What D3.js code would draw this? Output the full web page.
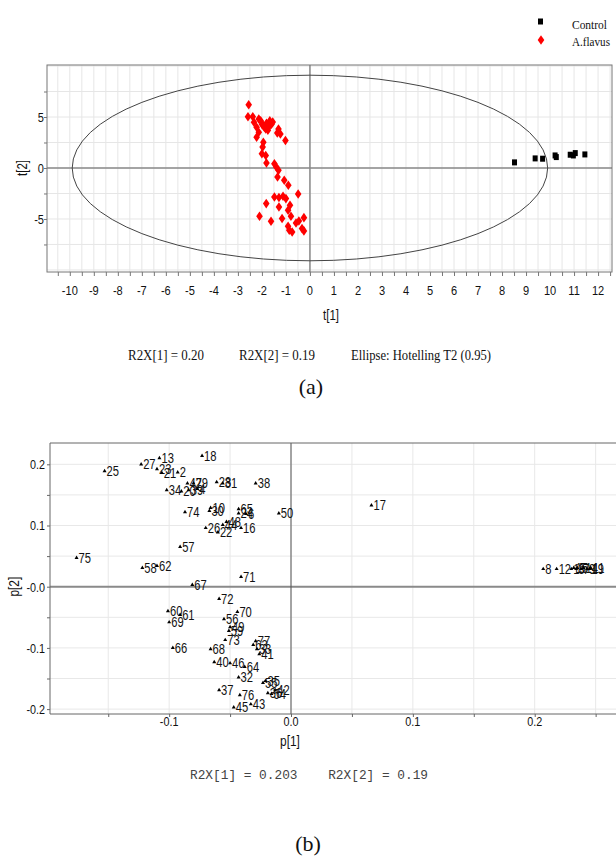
<!DOCTYPE html>
<html>
<head>
<meta charset="utf-8">
<script src="https://cdn.jsdelivr.net/npm/d3@7"></script>
<style>
  body { margin: 0; background: #fff; }
  svg text { fill: #111; }
</style>
</head>
<body>
<script>
// ---- (a) score plot: t[1] / t[2] ----
var ctrlT1 = [8.52, 9.38, 9.69, 10.21, 10.26, 10.84, 10.97, 11.05, 11.45];
var ctrlT2 = [0.55, 0.94, 0.91, 1.23, 1.07, 1.30, 1.23, 1.46, 1.33];

var flavT1 = [-2.55, -2.58, -2.38, -2.33, -2.13, -2.05, -1.94, -1.81, -1.67, -1.84, -1.72, -2.22, -2.13, -2.22,
              -1.31, -1.36, -1.23, -1.02, -1.94, -1.97, -2.0, -1.84, -1.81, -1.48, -1.40, -1.31, -1.35, -1.07,
              -0.9, -1.9, -1.6, -2.0, -1.75, -1.55,
              -0.49, -1.48, -1.29, -1.12, -1.0, -1.82, -1.29, -0.83, -0.91, -2.1, -0.79, -0.25, -1.62, -1.16,
              -0.58, -0.46, -0.91, -0.74, -0.33, -0.25, -0.86];
var flavT2 = [6.2, 5.03, 5.03, 4.48, 4.8, 4.64, 4.16, 4.38, 4.64, 3.83, 3.99, 3.99, 3.51, 3.02,
              3.83, 3.44, 3.34, 2.69, 2.53, 2.05, 1.4, 1.23, 0.49, 0.42, 0.1, -0.23, -0.88, -1.2,
              -1.69, 4.0, 4.3, 4.3, 3.7, 4.5,
              -2.55, -2.84, -2.9, -2.77, -3.0, -3.49, -3.82, -3.66, -4.15, -4.74, -4.74, -4.87, -5.23, -4.96,
              -5.39, -5.2, -5.72, -6.27, -5.94, -6.17, -6.1];

var seriesNames = ["Control", "A.flavus"];
var t1Labels = [-10, -9, -8, -7, -6, -5, -4, -3, -2, -1, 0, 1, 2, 3, 4, 5, 6, 7, 8, 9, 10, 11, 12];
var t2Labels = [-5, 0, 5];
var ellipseR = [9.9, 9.1];   // Hotelling T2 (0.95) radii in t[1], t[2] units
var noteA = ["R2X[1] = 0.20", "R2X[2] = 0.19", "Ellipse: Hotelling T2 (0.95)"];

// ---- (b) loading plot: p[1] / p[2] ----
var loadNames = ["25", "27", "13", "23", "21", "2", "18", "34", "47", "29", "20", "39", "4", "28", "31", "38",
  "74", "10", "30", "65", "24", "6", "50", "26", "44", "48", "22", "16", "57", "17", "75", "58", "62", "67",
  "71", "72", "60", "69", "61", "56", "70", "49", "59", "73", "68", "66", "77", "63", "33", "41", "40", "46",
  "64", "32", "37", "76", "55", "35", "36", "42", "54", "45", "43", "8", "12", "1", "15", "3", "5", "7",
  "14", "9", "19", "11"];
var loadP1 = [-0.153, -0.123, -0.108, -0.110, -0.106, -0.093, -0.073, -0.102, -0.085, -0.080, -0.090, -0.084,
  -0.077, -0.061, -0.056, -0.029, -0.087, -0.066, -0.067, -0.043, -0.043, -0.037, -0.010, -0.070, -0.056,
  -0.053, -0.060, -0.041, -0.091, 0.066, -0.176, -0.122, -0.110, -0.081, -0.041, -0.059, -0.101, -0.100,
  -0.091, -0.055, -0.044, -0.050, -0.051, -0.054, -0.066, -0.097, -0.029, -0.031, -0.028, -0.026, -0.063,
  -0.050, -0.038, -0.043, -0.059, -0.042, -0.023, -0.021, -0.019, -0.013, -0.016, -0.047, -0.033, 0.207,
  0.218, 0.230, 0.232, 0.234, 0.235, 0.238, 0.240, 0.243, 0.245, 0.246];
var loadP2 = [0.189, 0.200, 0.210, 0.192, 0.186, 0.187, 0.214, 0.158, 0.169, 0.169, 0.156, 0.158, 0.160,
  0.171, 0.169, 0.169, 0.122, 0.129, 0.124, 0.127, 0.120, 0.119, 0.120, 0.096, 0.101, 0.106, 0.089, 0.096,
  0.065, 0.133, 0.047, 0.031, 0.034, 0.003, 0.016, -0.020, -0.040, -0.058, -0.046, -0.053, -0.041, -0.066,
  -0.072, -0.087, -0.102, -0.100, -0.089, -0.095, -0.102, -0.110, -0.123, -0.125, -0.131, -0.148, -0.169,
  -0.177, -0.157, -0.154, -0.174, -0.169, -0.175, -0.197, -0.192, 0.029, 0.029, 0.029, 0.031, 0.029, 0.031,
  0.029, 0.031, 0.029, 0.029, 0.031];

var p1Ticks = [-0.1, 0.0, 0.1, 0.2];
var p1TickLabels = ["-0.1", "0.0", "0.1", "0.2"];
var p2Ticks = [-0.2, -0.1, 0.0, 0.1, 0.2];
var p2TickLabels = ["-0.2", "-0.1", "-0.0", "0.1", "0.2"];
var noteB = "R2X[1] = 0.203    R2X[2] = 0.19";

var width = 616, height = 856;
var sans = "'Liberation Sans', Arial, sans-serif",
    serif = "'Liberation Serif', 'Times New Roman', serif",
    mono = "'Liberation Mono', 'DejaVu Sans Mono', monospace";

var svg = d3.select("body").append("svg")
    .attr("width", width)
    .attr("height", height);

// text with a horizontal squeeze, the figure's fonts look condensed
function label(g, x, y, s, o) {
  o = o || {};
  return g.append("text")
    .attr("transform", "translate(" + x + "," + y + ")" + (o.rot ? " rotate(" + o.rot + ")" : "") +
          " scale(" + (o.k || 1) + ",1)")
    .attr("text-anchor", o.anchor || "start")
    .style("font-family", o.font || sans)
    .style("font-size", (o.size || 13) + "px")
    .style("fill", o.fill || "#111")
    .text(s);
}

function halfSteps(a, b, s) { // grid positions
  var n = Math.round((b - a) / s), out = [];
  for (var i = 0; i <= n; i++) out.push(+(a + i * s).toFixed(4));
  return out;
}

// ================= (a) =================
var A = {left: 47, right: 612, top: 65, bottom: 272};
var xA = d3.scaleLinear().domain([-10.95, 12.58]).range([A.left, A.right]);
var yA = d3.scaleLinear().domain([-10.2, 10.1]).range([A.bottom, A.top]);

var ga = svg.append("g");

ga.append("g").selectAll("line").data(halfSteps(-10.5, 12.5, 0.5)).enter().append("line")
    .attr("x1", d => xA(d)).attr("x2", d => xA(d))
    .attr("y1", A.top).attr("y2", A.bottom)
    .attr("stroke", "#e6e6e6");
ga.append("g").selectAll("line").data(halfSteps(-10, 10, 2.5)).enter().append("line")
    .attr("y1", d => yA(d)).attr("y2", d => yA(d))
    .attr("x1", A.left).attr("x2", A.right)
    .attr("stroke", "#e6e6e6");

// zero lines
ga.append("line").attr("x1", xA(0)).attr("x2", xA(0)).attr("y1", A.top).attr("y2", A.bottom)
    .attr("stroke", "#8a8a8a").attr("stroke-width", 1.5);
ga.append("line").attr("y1", yA(0)).attr("y2", yA(0)).attr("x1", A.left).attr("x2", A.right)
    .attr("stroke", "#8a8a8a").attr("stroke-width", 1.5);

// frame
ga.append("rect").attr("x", A.left).attr("y", A.top)
    .attr("width", A.right - A.left).attr("height", A.bottom - A.top)
    .attr("fill", "none").attr("stroke", "#777");

// ticks
var axA = ga.append("g").attr("transform", "translate(0," + A.bottom + ")")
    .call(d3.axisBottom(xA).tickValues(halfSteps(-10.5, 12.5, 0.5)).tickSize(4).tickFormat(""));
axA.select(".domain").remove();
axA.selectAll("line").attr("stroke", "#777");
t1Labels.forEach(function(v) {
  label(ga, xA(v), 295, v, {anchor: "middle", size: 13.5, k: 0.82});
});

var ayA = ga.append("g").attr("transform", "translate(" + A.left + ",0)")
    .call(d3.axisLeft(yA).tickValues(halfSteps(-7.5, 7.5, 2.5)).tickSize(3).tickFormat(""));
ayA.select(".domain").remove();
ayA.selectAll("line").attr("stroke", "#777");
t2Labels.forEach(function(v) {
  label(ga, 44, yA(v) + 5, v, {anchor: "end", size: 13.5, k: 0.82});
});

// ellipse
ga.append("ellipse")
    .attr("cx", xA(0)).attr("cy", yA(0))
    .attr("rx", xA(ellipseR[0]) - xA(0)).attr("ry", yA(0) - yA(ellipseR[1]))
    .attr("fill", "none").attr("stroke", "#444").attr("stroke-width", 1);

// points
var sq = d3.range(ctrlT1.length).map(i => [ctrlT1[i], ctrlT2[i]]);
var dm = d3.range(flavT1.length).map(i => [flavT1[i], flavT2[i]]);

function diamond(x, y) {
  return "M" + x + "," + (y - 4.8) + "L" + (x + 3.3) + "," + y + "L" + x + "," + (y + 4.8) +
         "L" + (x - 3.3) + "," + y + "Z";
}

ga.append("g").selectAll("path").data(dm).enter().append("path")
    .attr("d", d => diamond(xA(d[0]), yA(d[1])))
    .attr("fill", "#ff0000");
ga.append("g").selectAll("rect").data(sq).enter().append("rect")
    .attr("x", d => xA(d[0]) - 2.5).attr("y", d => yA(d[1]) - 3)
    .attr("width", 5).attr("height", 6)
    .attr("fill", "#000");

// legend
svg.append("rect").attr("x", 538).attr("y", 18.5).attr("width", 5).attr("height", 6).attr("fill", "#000");
svg.append("path").attr("d", diamond(541, 40)).attr("fill", "#ff0000");
svg.append("text").attr("x", 572).attr("y", 29).attr("textLength", 35).attr("lengthAdjust", "spacingAndGlyphs")
    .style("font-family", serif).style("font-size", "13px").text(seriesNames[0]);
svg.append("text").attr("x", 572).attr("y", 46).attr("textLength", 38).attr("lengthAdjust", "spacingAndGlyphs")
    .style("font-family", serif).style("font-size", "13px").text(seriesNames[1]);

// titles
label(svg, 331, 320, "t[1]", {anchor: "middle", size: 14, k: 0.82});
label(svg, 27, yA(0), "t[2]", {anchor: "middle", size: 14, k: 0.82, rot: -90});

[[128, 76], [239, 76], [351, 140]].forEach(function(p, i) {
  svg.append("text").attr("x", p[0]).attr("y", 360)
      .attr("textLength", p[1]).attr("lengthAdjust", "spacingAndGlyphs")
      .style("font-family", serif).style("font-size", "15px")
      .text(noteA[i]);
});
svg.append("text").attr("x", 311).attr("y", 394).attr("text-anchor", "middle")
    .style("font-family", serif).style("font-size", "22px").text("(a)");

// ================= (b) =================
var B = {left: 50, right: 620, top: 443, bottom: 714};
var xB = d3.scaleLinear().domain([-0.1978, 0.27]).range([B.left, B.right]);
var yB = d3.scaleLinear().domain([-0.208, 0.2348]).range([B.bottom, B.top]);

var gb = svg.append("g");

gb.append("g").selectAll("line").data(halfSteps(-0.15, 0.25, 0.05)).enter().append("line")
    .attr("x1", d => xB(d)).attr("x2", d => xB(d))
    .attr("y1", B.top).attr("y2", B.bottom)
    .attr("stroke", "#e8e8e8");
gb.append("g").selectAll("line").data(halfSteps(-0.2, 0.2, 0.05)).enter().append("line")
    .attr("y1", d => yB(d)).attr("y2", d => yB(d))
    .attr("x1", B.left).attr("x2", B.right)
    .attr("stroke", "#e8e8e8");

gb.append("line").attr("y1", yB(0)).attr("y2", yB(0)).attr("x1", B.left).attr("x2", B.right)
    .attr("stroke", "#8a8a8a").attr("stroke-width", 2);
gb.append("line").attr("x1", xB(0)).attr("x2", xB(0)).attr("y1", B.top).attr("y2", B.bottom)
    .attr("stroke", "#555").attr("stroke-width", 1);

// frame (right side falls off the picture)
gb.append("path")
    .attr("d", "M" + B.right + "," + B.top + "H" + B.left + "V" + B.bottom + "H" + B.right)
    .attr("fill", "none").attr("stroke", "#666");

var axB = gb.append("g").attr("transform", "translate(0," + B.bottom + ")")
    .call(d3.axisBottom(xB).tickValues(halfSteps(-0.15, 0.25, 0.05)).tickSize(3).tickFormat(""));
axB.select(".domain").remove();
axB.selectAll("line").attr("stroke", "#666");
p1Ticks.forEach(function(v, i) {
  label(gb, xB(v), 726, p1TickLabels[i], {anchor: "middle", size: 13.5, k: 0.8});
});

var ayB = gb.append("g").attr("transform", "translate(" + B.left + ",0)")
    .call(d3.axisLeft(yB).tickValues(halfSteps(-0.2, 0.2, 0.05)).tickSize(3).tickFormat(""));
ayB.select(".domain").remove();
ayB.selectAll("line").attr("stroke", "#666");
p2Ticks.forEach(function(v, i) {
  label(gb, 45, yB(v) + 5, p2TickLabels[i], {anchor: "end", size: 13.5, k: 0.8});
});

// loadings
var loads = loadNames.map((n, i) => ({name: n, p1: loadP1[i], p2: loadP2[i]}));
var tri = d3.symbol().type(d3.symbolTriangle).size(7);

var pts = gb.append("g").selectAll("g").data(loads).enter().append("g")
    .attr("transform", d => "translate(" + xB(d.p1) + "," + yB(d.p2) + ")");
pts.append("path").attr("d", tri).attr("fill", "#000");
pts.append("text")
    .attr("transform", "translate(2,5) scale(0.8,1)")
    .style("font-family", sans).style("font-size", "14px")
    .text(d => d.name);

label(svg, 290, 746, "p[1]", {anchor: "middle", size: 14, k: 0.85});
label(svg, 19, yB(0), "p[2]", {anchor: "middle", size: 14, k: 0.85, rot: -90});

svg.append("text").attr("x", 190).attr("y", 779)
    .attr("textLength", 238).attr("lengthAdjust", "spacingAndGlyphs")
    .style("font-family", mono).style("font-size", "13px").style("fill", "#444")
    .attr("xml:space", "preserve").style("white-space", "pre")
    .text(noteB);

svg.append("text").attr("x", 308).attr("y", 851).attr("text-anchor", "middle")
    .style("font-family", serif).style("font-size", "22px").text("(b)");
</script>
</body>
</html>
